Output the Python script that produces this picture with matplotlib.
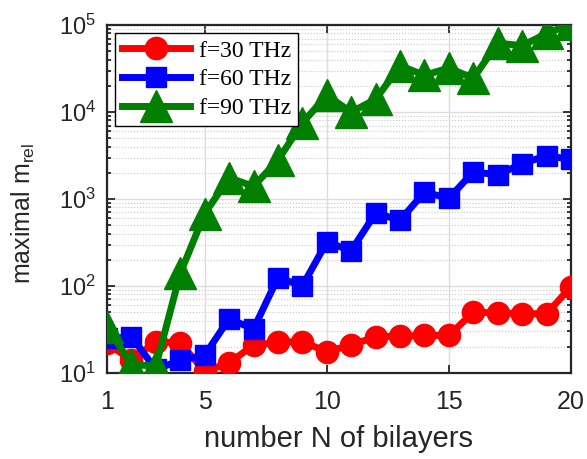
import matplotlib
matplotlib.use("Agg")
import matplotlib.pyplot as plt
from matplotlib.ticker import LogLocator, NullFormatter

plt.rcParams["font.family"] = ["Liberation Sans", "DejaVu Sans"]
plt.rcParams["mathtext.fontset"] = "custom"
plt.rcParams["mathtext.rm"] = "Liberation Sans"
plt.rcParams["mathtext.it"] = "Liberation Sans:italic"

n_bilayers = list(range(1, 21))
m_30 = [22, 14, 23, 22, 10.5, 13, 21, 22.5, 23, 17.5, 21, 26, 26.5, 27, 27,
        50, 49, 48, 48, 98]
m_60 = [25, 26, 11, 14, 16, 42, 32, 125, 100, 320, 255, 690, 570, 1200, 1020,
        2050, 1900, 2550, 3150, 2850]
m_90 = [34, 12.5, 12, 140, 680, 1750, 1400, 2800, 7500, 15500, 10000, 14000,
        34000, 26500, 32000, 24500, 62000, 58000, 80000, 103000]
x_ticks = [1, 5, 10, 15, 20]

fig = plt.figure(figsize=(5.87, 4.59), dpi=100)
ax = fig.add_axes([0.1823, 0.1874, 0.7904, 0.758])

ax.plot(n_bilayers, m_30, color="#ff0000", lw=5, marker="o", ms=16,
        label="f=30 THz", zorder=3)
ax.plot(n_bilayers, m_60, color="#0000ff", lw=5, marker="s", ms=14,
        label="f=60 THz", zorder=4)
ax.plot(n_bilayers, m_90, color="#007f00", lw=5, marker="^", ms=23,
        label="f=90 THz", zorder=5)

ax.set_yscale("log")
ax.set_xlim(1, 20)
ax.set_ylim(10, 1e5)
ax.set_xticks(x_ticks)
ax.set_xticklabels([str(t) for t in x_ticks])
ax.yaxis.set_major_locator(LogLocator(base=10, numticks=10))
ax.yaxis.set_minor_locator(LogLocator(base=10, subs=range(2, 10), numticks=20))
ax.yaxis.set_minor_formatter(NullFormatter())

ax.grid(True, which="major", color="#dcdcdc", lw=1, ls="-", zorder=0)
ax.grid(True, which="minor", axis="y", color="#c8c8c8", lw=0.8, ls=":", zorder=0)
ax.set_axisbelow(True)

for s in ax.spines.values():
    s.set_linewidth(1.6)
    s.set_color("#262626")
ax.tick_params(which="both", direction="in", top=True, right=True,
               colors="#262626", width=1.3)
ax.tick_params(which="major", length=6)
ax.tick_params(which="minor", length=3)
ax.tick_params(axis="x", labelsize=18, pad=12)
ax.tick_params(axis="y", labelsize=17, pad=8)

ax.set_xlabel("number N of bilayers", fontsize=21, color="#262626", labelpad=8)
ax.set_ylabel(r"maximal m$_\mathrm{rel}$", fontsize=18, color="#262626")
ax.yaxis.set_label_coords(-0.15, 0.46)

leg = ax.legend(loc="upper left", bbox_to_anchor=(0.017, 0.977),
                prop={"family": "Liberation Serif", "size": 17},
                handlelength=2.9, handletextpad=0.35, borderpad=0.3,
                labelspacing=0.3, fancybox=False, framealpha=1,
                edgecolor="black", borderaxespad=0)
leg.get_frame().set_linewidth(1.0)

fig.savefig("out.png", dpi=100)
